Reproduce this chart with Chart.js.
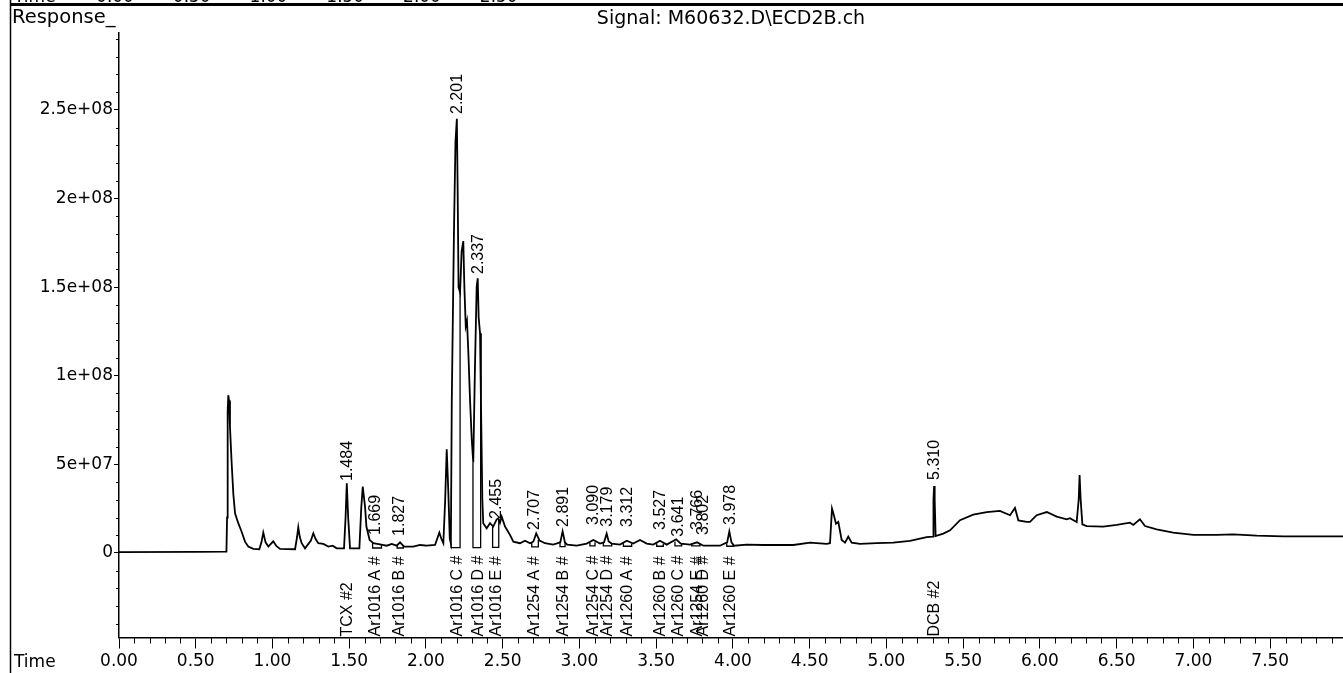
<!DOCTYPE html>
<html>
<head>
<meta charset="utf-8">
<script src="https://cdn.jsdelivr.net/npm/chart.js@4.4.1/dist/chart.umd.min.js"></script>
<style>
html,body{margin:0;padding:0;background:#fff;}
#wrap{position:relative;width:1343px;height:673px;background:#fff;}
</style>
</head>
<body>
<div id="wrap"><canvas id="c"></canvas></div>
<script>
// ---- chromatogram trace (retention time in min, response) ----
const times = [0.000,0.500,0.700,0.704,0.708,0.712,0.717,0.723,0.734,0.745,0.756,0.777,0.799,0.821,0.842,0.875,0.914,0.928,0.940,0.955,0.973,1.005,1.025,1.049,1.147,1.160,1.168,1.178,1.190,1.212,1.250,1.266,1.280,1.298,1.331,1.364,1.392,1.418,1.466,1.476,1.484,1.493,1.505,1.566,1.578,1.588,1.603,1.612,1.633,1.657,1.700,1.744,1.777,1.809,1.831,1.857,1.917,1.961,2.004,2.059,2.087,2.100,2.113,2.125,2.135,2.145,2.155,2.162,2.168,2.182,2.192,2.201,2.206,2.212,2.222,2.232,2.243,2.250,2.259,2.267,2.276,2.287,2.298,2.308,2.319,2.330,2.337,2.343,2.352,2.358,2.367,2.373,2.395,2.417,2.438,2.460,2.471,2.482,2.493,2.515,2.547,2.569,2.612,2.645,2.678,2.700,2.718,2.740,2.775,2.829,2.875,2.890,2.905,2.920,2.982,3.047,3.090,3.134,3.160,3.177,3.190,3.210,3.264,3.308,3.350,3.394,3.438,3.481,3.524,3.568,3.630,3.660,3.720,3.766,3.807,3.915,3.962,3.976,3.990,4.007,4.089,4.197,4.306,4.393,4.502,4.610,4.632,4.645,4.655,4.671,4.686,4.708,4.730,4.751,4.773,4.827,4.936,5.044,5.153,5.262,5.303,5.306,5.310,5.314,5.320,5.370,5.414,5.479,5.565,5.653,5.739,5.805,5.837,5.859,5.913,5.935,5.978,6.044,6.109,6.174,6.195,6.239,6.252,6.258,6.265,6.276,6.304,6.412,6.500,6.586,6.608,6.651,6.684,6.760,6.868,6.999,7.151,7.259,7.412,7.585,7.974];
const responses = [0.5e6,0.6e6,0.7e6,20e6,80e6,89e6,86e6,71e6,50.6e6,33e6,22.4e6,16.8e6,12.0e6,6.4e6,3.6e6,2.3e6,2.1e6,6e6,11.5e6,6e6,3.6e6,6.6e6,4e6,2.3e6,2.1e6,9e6,14.5e6,9e6,5.5e6,2.6e6,7e6,11.1e6,8e6,5.5e6,5.1e6,3.6e6,4.1e6,2.6e6,2.6e6,20e6,39.3e6,20e6,2.6e6,2.6e6,25e6,37.4e6,26e6,14.8e6,7.3e6,5.5e6,4.9e6,4.1e6,5.1e6,4.1e6,6.0e6,3.6e6,3.6e6,4.5e6,4.1e6,4.5e6,11.5e6,8e6,5.5e6,30e6,58.5e6,35.6e6,8e6,5.5e6,86e6,180e6,232e6,245e6,207e6,150e6,147e6,170e6,176e6,150e6,128e6,131e6,113e6,86e6,64e6,51e6,105e6,150e6,155e6,133e6,124e6,86e6,30e6,16.8e6,13.9e6,16.8e6,14.9e6,18.8e6,19.6e6,17e6,20.5e6,14.9e6,10.2e6,6.4e6,5.5e6,6.9e6,5.5e6,6.5e6,11.0e6,7e6,5.5e6,4.7e6,6e6,12.2e6,6e6,4.7e6,4.1e6,5.3e6,7.3e6,5.3e6,6e6,10.9e6,6.5e6,5.3e6,4.7e6,6.9e6,5.3e6,7.3e6,5.3e6,4.7e6,6.9e6,4.7e6,7.7e6,5.3e6,4.7e6,6.0e6,4.1e6,4.1e6,6e6,12.2e6,6e6,4.1e6,4.7e6,4.5e6,4.5e6,4.5e6,5.8e6,5.1e6,5.5e6,25.0e6,22e6,16.5e6,17.5e6,7.3e6,5.8e6,9.2e6,5.8e6,5.1e6,5.5e6,5.8e6,6.8e6,8.9e6,9.2e6,30e6,37.8e6,30e6,9.5e6,10.9e6,12.8e6,18.5e6,21.6e6,23.1e6,23.7e6,21.3e6,25.4e6,18.4e6,17.5e6,17.5e6,21.3e6,23.1e6,20.5e6,19.0e6,19.6e6,17.5e6,30e6,44.0e6,30e6,16.2e6,15.2e6,14.9e6,15.8e6,17.1e6,15.8e6,19.0e6,15.2e6,13.3e6,11.5e6,10.2e6,10.2e6,10.5e6,9.8e6,9.4e6,9.4e6];

// ---- integration baselines ----
const integStart    = [1.652,1.812,2.163,2.306,2.434,2.689,2.873,3.068,3.155,3.286,3.503,3.622,3.731,3.959];
const integStartTop = [5.6e6,4.3e6,5.5e6,51e6,15e6,6.2e6,6.5e6,5.8e6,5.8e6,5.5e6,5.5e6,6.5e6,5.2e6,5.5e6];
const integEnd      = [1.710,1.852,2.222,2.356,2.474,2.732,2.906,3.101,3.210,3.340,3.546,3.666,3.785,4.002];
const integEndTop   = [4.8e6,3.8e6,147e6,100e6,19e6,7.5e6,6e6,6e6,5.3e6,5.3e6,5e6,5.3e6,5e6,4.5e6];
const integBase     = [2.8e6,2.8e6,3e6,3e6,3.2e6,3.4e6,3.6e6,4e6,4e6,3.8e6,3.8e6,4e6,4e6,3.8e6];

// ---- peak annotations ----
const peakTimes  = [1.484,1.669,1.827,2.201,2.337,2.455,2.707,2.891,3.090,3.179,3.312,3.527,3.641,3.766,3.802,3.978,5.310];
const peakLabels = ["1.484","1.669","1.827","2.201","2.337","2.455","2.707","2.891","3.090","3.179","3.312","3.527","3.641","3.766","3.802","3.978","5.310"];
const peakLabelLevels = [40.6e6,10.2e6,9.6e6,247.7e6,157.4e6,19.2e6,13.0e6,14.7e6,15.8e6,14.8e6,14.7e6,13.0e6,9.2e6,13.0e6,10.2e6,15.8e6,41.2e6];
const compoundNames = ["TCX #2","Ar1016 A #","Ar1016 B #","Ar1016 C #","Ar1016 D #","Ar1016 E #","Ar1254 A #","Ar1254 B #","Ar1254 C #","Ar1254 D #","Ar1260 A #","Ar1260 B #","Ar1260 C #","Ar1254 E #","Ar1260 D #","Ar1260 E #","DCB #2"];

// ---- axes ----
const xTickValues = [0,0.5,1,1.5,2,2.5,3,3.5,4,4.5,5,5.5,6,6.5,7,7.5];
const xTickLabels = ["0.00","0.50","1.00","1.50","2.00","2.50","3.00","3.50","4.00","4.50","5.00","5.50","6.00","6.50","7.00","7.50"];
const yTickValues = [0,5e7,1e8,1.5e8,2e8,2.5e8];
const yTickLabels = ["0","5e+07","1e+08","1.5e+08","2e+08","2.5e+08"];
const headerValues = [0,0.5,1,1.5,2,2.5];
const headerLabels = ["0.00","0.50","1.00","1.50","2.00","2.50"];
const titleText = "Signal: M60632.D\\ECD2B.ch";

const X_MIN = 0, X_MAX = 7.974, Y_MIN = -4.77e7, Y_MAX = 2.934e8;

const traceData = times.map((t,i)=>({x:t,y:responses[i]}));
const integData = [];
integStart.forEach((s,i)=>{
  integData.push({x:s,y:integStartTop[i]},{x:s,y:integBase[i]},{x:integEnd[i],y:integBase[i]},{x:integEnd[i],y:integEndTop[i]},{x:integEnd[i],y:null});
});

const TICK_FONT = '"DejaVu Sans", sans-serif';
const LBL_FONT = '"Liberation Sans", Arial, sans-serif';

const annot = {
  id:'annot',
  afterDraw(chart){
    const {ctx, chartArea:ca, scales:{x,y}} = chart;
    ctx.save();
    ctx.fillStyle='#000'; ctx.strokeStyle='#000';
    // minor x ticks
    ctx.lineWidth=1;
    ctx.beginPath();
    for(let k=0;k<=79;k++){
      if(k%5===0) continue;
      const px = Math.round(x.getPixelForValue(k/10))+0.5;
      ctx.moveTo(px, ca.bottom); ctx.lineTo(px, ca.bottom+6);
    }
    // minor y ticks
    for(let k=-4;k<=29;k++){
      if(k%5===0) continue;
      const py = Math.round(y.getPixelForValue(k*1e7))+0.5;
      ctx.moveTo(ca.left-3, py); ctx.lineTo(ca.left, py);
    }
    ctx.stroke();

    // page frame
    ctx.lineWidth=1.5;
    ctx.beginPath(); ctx.moveTo(10.5,0); ctx.lineTo(10.5,673); ctx.stroke();
    ctx.lineWidth=3;
    ctx.beginPath(); ctx.moveTo(10,4.5); ctx.lineTo(1343,4.5); ctx.stroke();

    // cropped header of previous page
    ctx.font = '17px '+TICK_FONT;
    ctx.textBaseline='alphabetic'; ctx.textAlign='left';
    ctx.fillText('Time', 14, 2);
    ctx.textAlign='center';
    headerValues.forEach((v,i)=>ctx.fillText(headerLabels[i], x.getPixelForValue(v)-4, 2));

    // Response_ and Time
    ctx.textAlign='left'; ctx.textBaseline='middle';
    ctx.font = '19.5px '+TICK_FONT;
    ctx.fillText('Response_', 12, 18);
    ctx.font = '17px '+TICK_FONT;
    ctx.fillText('Time', 14, 663);

    // rotated labels
    ctx.font = '16px '+LBL_FONT;
    const vtext=(txt,px,py)=>{ctx.save();ctx.translate(px,py);ctx.rotate(-Math.PI/2);ctx.textAlign='left';ctx.textBaseline='middle';ctx.fillText(txt,0,0);ctx.restore();};
    peakTimes.forEach((t,i)=>{
      const px = x.getPixelForValue(t)+0.5;
      vtext(peakLabels[i], px, y.getPixelForValue(peakLabelLevels[i]));
      vtext(compoundNames[i], px, ca.bottom-1);
    });
    ctx.restore();
  }
};

Chart.defaults.color = '#000';
new Chart(document.getElementById('c'), {
  type:'line',
  data:{datasets:[
    {data:traceData, borderColor:'#000', borderWidth:1.8, pointRadius:0, tension:0, fill:false},
    {data:integData, borderColor:'#000', borderWidth:1.3, pointRadius:0, tension:0, fill:false, spanGaps:false}
  ]},
  options:{
    responsive:true, maintainAspectRatio:false, animation:false,
    layout:{padding:0},
    plugins:{
      legend:{display:false}, tooltip:{enabled:false},
      title:{display:true, text:titleText, fullSize:false, color:'#000',
        font:{family:TICK_FONT, size:19, weight:'normal', lineHeight:1.2}, padding:{top:8,bottom:2.2}}
    },
    scales:{
      x:{type:'linear', min:X_MIN, max:X_MAX, position:'bottom',
        afterBuildTicks:(s)=>{s.ticks = xTickValues.map(v=>({value:v}));},
        afterFit:(s)=>{s.height = 35.5;},
        ticks:{autoSkip:false, maxRotation:0, padding:3, color:'#000',
          font:{family:TICK_FONT,size:17},
          callback:(v,i)=>xTickLabels[i]},
        grid:{drawOnChartArea:false, drawTicks:true, tickLength:11, color:'#000', lineWidth:1},
        border:{display:true, color:'#000', width:1.5}
      },
      y:{type:'linear', min:Y_MIN, max:Y_MAX, position:'left',
        afterBuildTicks:(s)=>{s.ticks = yTickValues.map(v=>({value:v}));},
        afterFit:(s)=>{s.width = 119;},
        ticks:{autoSkip:false, padding:1, color:'#000',
          font:{family:TICK_FONT,size:17},
          callback:(v,i)=>yTickLabels[i]},
        grid:{drawOnChartArea:false, drawTicks:true, tickLength:5, color:'#000', lineWidth:1},
        border:{display:true, color:'#000', width:1.5}
      }
    }
  },
  plugins:[annot]
});
</script>
</body>
</html>
